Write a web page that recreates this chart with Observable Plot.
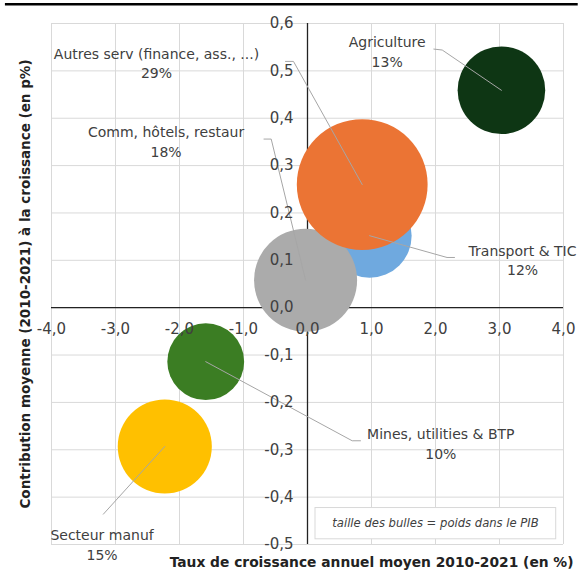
<!DOCTYPE html>
<html><head><meta charset="utf-8">
<script src="https://cdn.jsdelivr.net/npm/d3@7"></script>
<script src="https://cdn.jsdelivr.net/npm/@observablehq/plot@0.6"></script>
<style>body{margin:0;background:#fff}</style>
</head><body><div id="chart"></div>
<script>
// Data
const sectors = ["Agriculture", "Secteur manuf", "Mines, utilities & BTP", "Transport & TIC", "Comm, hôtels, restaur", "Autres serv (finance, ass., ...)"];
const growth  = [3.03, -2.23, -1.59, 0.97, -0.03, 0.855];      // taux de croissance annuel moyen (%)
const contrib = [0.459, -0.293, -0.114, 0.152, 0.058, 0.26];    // contribution (p%)
const weight  = [13, 15, 10, 12, 18, 29];                        // poids dans le PIB (%)
const colors  = ["#0e3614", "#ffc000", "#3b7d23", "#6fa9df", "#ababab", "#eb7434"];

// label anchors (data units)
const labelX = [1.245, -3.21, 2.083, 3.36, -2.21, -2.36];
const labelY = [0.543, -0.4986, -0.285, 0.1025, 0.352, 0.518];
// leader-line bend points (data units), from label to bubble
const leaderX = [[1.974, 2.105], [-3.19], [0.828, 0.698], [2.297, 2.18], [-0.68, -0.567], [-0.344, -0.219]];
const leaderY = [[0.546, 0.544], [-0.436], [-0.281, -0.281], [0.106, 0.106], [0.356, 0.356], [0.52, 0.52]];

const xTicks = [-4, -3, -2, -1, 0, 1, 2, 3, 4];
const xTickLabels = ["-4,0", "-3,0", "-2,0", "-1,0", "0,0", "1,0", "2,0", "3,0", "4,0"];
const yTicks = [-0.5, -0.4, -0.3, -0.2, -0.1, 0, 0.1, 0.2, 0.3, 0.4, 0.5, 0.6];
const yTickLabels = ["-0,5", "-0,4", "-0,3", "-0,2", "-0,1", "0,0", "0,1", "0,2", "0,3", "0,4", "0,5", "0,6"];

const xTitle = "Taux de croissance annuel moyen 2010-2021 (en %)";
const yTitle = "Contribution moyenne (2010-2021) à la croissance (en p%)";
const note = "taille des bulles = poids dans le PIB";

const bubbles = sectors.map((s, i) => ({sector: s, x: growth[i], y: contrib[i], w: weight[i], color: colors[i]}));
const labels = sectors.map((s, i) => ({text: s + "\n" + weight[i] + "%", x: labelX[i], y: labelY[i]}));
const leaders = [];
sectors.forEach((s, i) => {
  leaderX[i].forEach((lx, j) => leaders.push({sector: s, x: lx, y: leaderY[i][j]}));
  leaders.push({sector: s, x: growth[i], y: contrib[i]});
});
const xTickData = xTicks.map((v, i) => ({v, t: xTickLabels[i]}));
const yTickData = yTicks.map((v, i) => ({v, t: yTickLabels[i]}));

const font = "DejaVu Sans";
const textColor = "#404040";

const chart = Plot.plot({
  width: 578,
  height: 574,
  marginLeft: 51,
  marginRight: 15,
  marginTop: 23,
  marginBottom: 30,
  style: {fontFamily: font, background: "#fff", overflow: "visible"},
  x: {domain: [-4, 4], axis: null},
  y: {domain: [-0.5, 0.6], axis: null},
  r: {type: "sqrt", domain: [0, 29], range: [0, 65.4]},
  marks: [
    Plot.ruleY([{x1: -4.72, x2: 4.23, y: 0.6406}], {x1: "x1", x2: "x2", y: "y", stroke: "#000", strokeWidth: 2.6}),
    Plot.ruleX(xTicks, {stroke: "#d9d9d9", strokeWidth: 1}),
    Plot.ruleY(yTicks, {stroke: "#d9d9d9", strokeWidth: 1}),
    Plot.ruleX([0], {stroke: "#222", strokeWidth: 1.3}),
    Plot.ruleY([0], {stroke: "#222", strokeWidth: 1.3}),
    Plot.dot(bubbles, {x: "x", y: "y", r: "w", fill: "color", stroke: "none", sort: null}),
    Plot.line(leaders, {x: "x", y: "y", z: "sector", stroke: "#a6a6a6", strokeWidth: 1, curve: "linear"}),
    Plot.text(xTickData, {x: "v", y: 0, text: "t", dy: 22, fontSize: 15, fill: textColor}),
    Plot.text(yTickData, {x: 0, y: "v", text: "t", dx: -14, textAnchor: "end", fontSize: 15, fill: textColor}),
    Plot.text(labels, {x: "x", y: "y", text: "text", fontSize: 14, lineHeight: 1.4, fill: textColor}),
    Plot.rect([{x1: 0.125, x2: 3.886, y1: -0.489, y2: -0.423}], {x1: "x1", x2: "x2", y1: "y1", y2: "y2", fill: "#fff", stroke: "#d9d9d9", strokeWidth: 1}),
    Plot.text([note], {x: 2.0, y: -0.456, text: d => d, fontSize: 11.6, fontStyle: "italic", fill: textColor}),
    Plot.text([yTitle], {frameAnchor: "left", textAnchor: "middle", rotate: -90, dx: -26, text: d => d, fontSize: 13.5, fontWeight: "bold", fill: "#222"}),
    Plot.text([xTitle], {frameAnchor: "bottom-right", textAnchor: "end", dx: 10, dy: 22, text: d => d, fontSize: 13.8, fontWeight: "bold", fill: "#222"})
  ]
});
document.getElementById("chart").appendChild(chart);
</script>
</body></html>
